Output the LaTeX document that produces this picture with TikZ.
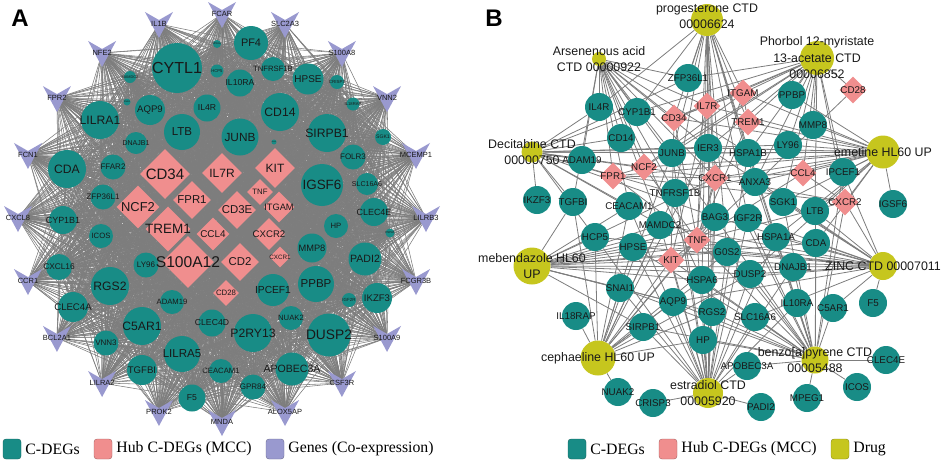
\documentclass[tikz,border=0pt]{standalone}
\usepackage{fontspec}
\setmainfont{Liberation Serif}
\setsansfont{Liberation Sans}
\usepackage{tikz}
\usetikzlibrary{shapes.geometric, positioning}

\definecolor{sarcelle}{RGB}{24,140,134}
\definecolor{rose}{RGB}{240,142,142}
\definecolor{lavande}{RGB}{153,153,207}
\definecolor{olive}{RGB}{198,198,30}
\definecolor{trait}{RGB}{125,125,125}

\pgfdeclarelayer{fond}
\pgfsetlayers{fond,main}

\begin{document}
\begin{tikzpicture}[x=1pt, y=-1pt,
    gene/.style={circle, fill=sarcelle, inner sep=0pt},
    hub/.style={diamond, aspect=1, fill=rose, inner sep=0pt},
    drogue/.style={circle, fill=olive, inner sep=0pt},
    etiq/.style={font=\sffamily, text=black!90, inner sep=0pt},
    etiqB/.style={etiq, font=\sffamily\fontsize{9.8}{9.8}\selectfont},
    etiqD/.style={etiq, align=center, font=\sffamily\fontsize{12.4}{16.5}\selectfont},
    lienA/.style={draw=trait, line width=0.55pt},
    lienB/.style={draw=trait, line width=0.8pt},
    carre/.style={rectangle, rounded corners=3pt, minimum width=18pt, minimum height=20pt,
                  inner sep=0pt, draw=#1!70!black, fill=#1},
    legende/.style={font=\fontsize{15.8}{16}\selectfont, inner sep=0pt, anchor=west}]

    \useasboundingbox (0,0) rectangle (941,464);

    % Panneau A
    \node[font=\sffamily\bfseries\fontsize{24}{24}\selectfont] (lettreA) at (20,18) {A};

    \def\listeT{FCAR,SLC2A3,S100A8,VNN2,MCEMP1,LILRB3,FCGR3B,S100A9,CSF3R,ALOX5AP,
                MNDA,PROK2,LILRA2,BCL2A1,CCR1,CXCL8,FCN1,FPR2,NFE2,IL1B}
    \def\listeA{CYTL1,IL10RA,LILRA1,AQP9,IL4R,LTB,JUNB,DNAJB1,CDA,FFAR2,ZFP36L1,PF4,
                TNFRSF1B,HPSE,CRISP3,IL18RAP,CD14,SIRPB1,SGK1,FOLR3,IGSF6,SLC16A6,CLEC4E,
                HP,MMP8,PADI2,PPBP,IKZF3,IGF2R,IPCEF1,NUAK2,DUSP2,P2RY13,APOBEC3A,GPR84,
                CEACAM1,CLEC4D,LILRA5,F5,TGFBI,C5AR1,VNN3,ADAM19,LY96,RGS2,CLEC4A,CXCL16,
                ICOS,CYP1B1,MPEG1,HCP5,MAMDC2,SNAI1,BAG3,HSPA6,
                CD34,IL7R,KIT,NCF2,FPR1,TNF,CD3E,ITGAM,TREM1,CCL4,CXCR2,S100A12,CD2,CXCR1,CD28}

    % genes co-exprimes
    \foreach \n [count=\k from 0] in \listeT {
        \pgfmathsetmacro\px{222+204*cos(90-18*\k)}
        \pgfmathsetmacro\py{218-204*sin(90-18*\k)}
        \fill[lavande] (\px-14,\py-12) -- (\px,\py-4) -- (\px+14,\py-12) -- (\px,\py+14) -- cycle;
        \node[etiq, font=\sffamily\fontsize{7.5}{7.5}\selectfont] (t-\n) at (\px,\py) {\n};
    }

    % C-DEGs
    \foreach \n/\x/\y/\dm in {CYTL1/177/68/50, IL10RA/240/83/27, LILRA1/100/120/38,
        AQP9/150/110/30, IL4R/207/108/27, LTB/182/132/36, JUNB/240/137/37, DNAJB1/136/143/22,
        CDA/67/169/38, FFAR2/113/167/25, ZFP36L1/103/197/25, PF4/251/43/34,
        TNFRSF1B/273/69/24, HPSE/308/79/31, CRISP3/337/82/14, IL18RAP/353/104/13,
        CD14/280/112/38, SIRPB1/327/133/38, SGK1/383/137/16, FOLR3/353/157/25,
        IGSF6/322/185/42, SLC16A6/367/184/22, CLEC4E/374/212/28, HP/336/226/24,
        MMP8/312/248/29, PADI2/365/259/33, PPBP/316/284/36, IKZF3/377/298/30,
        IGF2R/349/300/14, IPCEF1/273/290/32, NUAK2/291/318/24, DUSP2/329/335/43,
        P2RY13/253/333/38, APOBEC3A/292/369/33, GPR84/253/387/25, CEACAM1/221/371/24,
        CLEC4D/212/323/27, LILRA5/182/354/36, F5/192/398/27, TGFBI/142/370/30,
        C5AR1/142/326/38, VNN3/106/343/25, ADAM19/172/302/24, LY96/146/265/25,
        RGS2/110/286/38, CLEC4A/73/307/30, CXCL16/59/267/26, ICOS/101/236/24,
        CYP1B1/63/220/28, MPEG1/217/44/8, HCP5/217/71/13, MAMDC2/130/77/12,
        SNAI1/127/102/7, BAG3/274/142/5, HSPA6/390/233/9} {
        \pgfmathsetmacro\fs{0.32*\dm}
        \node[gene, minimum size=\dm pt,
              label={[etiq, font=\sffamily\fontsize{\fs}{\fs}\selectfont]center:\n}] (a-\n) at (\x,\y) {};
    }

    % Hub C-DEGs
    \foreach \n/\x/\y/\w in {CD34/165/174/50, IL7R/222/173/40, KIT/275/168/40,
        NCF2/138/207/43, FPR1/192/200/38, TNF/260/192/26, CD3E/237/210/38,
        ITGAM/279/207/31, TREM1/168/229/45, CCL4/213/234/33, CXCR2/269/234/32,
        S100A12/188/262/52, CD2/240/262/38, CXCR1/280/257/21, CD28/226/293/26} {
        \pgfmathsetmacro\fs{0.3*\w}
        \node[hub, minimum size=\w pt,
              label={[etiq, font=\sffamily\fontsize{\fs}{\fs}\selectfont]center:\n}] (a-\n) at (\x,\y) {};
    }

    \begin{pgfonlayer}{fond}
        \foreach \t in \listeT {
            \foreach \g in \listeA {
                \draw[lienA] (t-\t.center) -- (a-\g.center);
            }
        }
        \foreach \u [count=\i] in \listeA {
            \foreach \v [count=\j] in \listeA {
                \ifnum\j>\i \draw[lienA] (a-\u.center) -- (a-\v.center); \fi
            }
        }
    \end{pgfonlayer}

    % Panneau B
    \node[font=\sffamily\bfseries\fontsize{24}{24}\selectfont] (lettreB) at (494,18) {B};

    % C-DEGs
    \foreach \n/\x/\y in {ZFP36L1/688/78, IL4R/599/107, CYP1B1/637/112, CD14/621/138,
        ADAM19/582/160, JUNB/672/153, IKZF3/537/200, TGFBI/573/202, CEACAM1/629/206,
        TNFRSF1B/675/193, IER3/708/148, BAG3/715/217, MAMDC2/660/225, HCP5/595/237,
        HPSE/633/247, G0S2/727/252, HSPA1B/748/153, PPBP/792/95, MMP8/813/125,
        LY96/788/145, IPCEF1/843/172, ANXA3/755/182, SGK1/783/202, LTB/815/211,
        IGSF6/893/204, IGF2R/748/218, HSPA1A/776/237, CDA/816/243, DNAJB1/793/267,
        DUSP2/750/274, HSPA6/702/280, SNAI1/620/288, AQP9/673/302, RGS2/712/312,
        SLC16A6/755/317, IL10RA/797/303, C5AR1/833/308, F5/873/303, SIRPB1/643/327,
        HP/703/340, IL18RAP/576/316, APOBEC3A/747/366, CLEC4E/886/360, ICOS/857/387,
        MPEG1/807/398, PADI2/761/407, CRISP3/653/403, NUAK2/618/392} {
        \node[gene, minimum size=28pt, label={[etiqB]center:\n}] (b-\n) at (\x,\y) {};
    }

    % Hub C-DEGs
    \foreach \n/\x/\y in {CD34/674/118, NCF2/644/167, FPR1/613/176, IL7R/707/106,
        CXCR1/715/178, TNF/697/240, KIT/671/260, ITGAM/743/93, TREM1/748/122,
        CD28/853/90, CCL4/803/173, CXCR2/845/202} {
        \node[hub, minimum size=27pt, label={[etiqB]center:\n}] (b-\n) at (\x,\y) {};
    }

    % Drugs
    \node[drogue, minimum size=32pt, label={[etiqD, yshift=4pt]center:progesterone CTD\\00006624}] (b-prog) at (707,20) {};
    \node[drogue, minimum size=14pt, label={[etiqD]center:Arsenenous acid\\CTD 00000922}] (b-ars) at (599,59) {};
    \node[drogue, minimum size=34pt, label={[etiqD]center:Phorbol 12-myristate\\13-acetate CTD\\00006852}] (b-phor) at (817,58) {};
    \node[drogue, minimum size=21pt, label={[etiqD]center:Decitabine CTD\\00000750}] (b-deci) at (532,152) {};
    \node[drogue, minimum size=33pt, label={[etiqD]center:emetine HL60 UP}] (b-emet) at (883,152) {};
    \node[drogue, minimum size=37pt, label={[etiqD]center:mebendazole HL60\\UP}] (b-meb) at (532,266) {};
    \node[drogue, minimum size=28pt, label={[etiqD]center:ZINC CTD 00007011}] (b-zinc) at (883,266) {};
    \node[drogue, minimum size=35pt, label={[etiqD]center:cephaeline HL60 UP}] (b-ceph) at (598,358) {};
    \node[drogue, minimum size=27pt, label={[etiqD]center:benzo[a]pyrene CTD\\00005488}] (b-benzo) at (815,360) {};
    \node[drogue, minimum size=30pt, label={[etiqD]center:estradiol CTD\\00005920}] (b-estr) at (708,393) {};

    \begin{pgfonlayer}{fond}
        \foreach \s/\cs in {
            prog/{ZFP36L1,IL7R,ITGAM,IER3,CXCR1,BAG3,HSPA1B,JUNB,TNFRSF1B,TNF,G0S2,HSPA6,IGF2R,CD34,CYP1B1,IL4R,HSPA1A,RGS2,TREM1,ANXA3},
            ars/{IL4R,CYP1B1,CD14,JUNB,ZFP36L1,ADAM19,FPR1,NCF2,TNFRSF1B,IER3,HSPA1B,CXCR1,TGFBI,CEACAM1,BAG3,CD34,HSPA6,IL7R,MAMDC2},
            phor/{ITGAM,PPBP,CD28,MMP8,LY96,IL7R,TREM1,CD34,ZFP36L1,IPCEF1,CXCR2,CCL4,HSPA1B,SGK1,LTB,IER3,NCF2,ANXA3,CYP1B1,JUNB},
            deci/{IKZF3,ADAM19,CD14,IL4R,FPR1,TGFBI,CEACAM1,HCP5,JUNB,CXCR1,NCF2,CYP1B1,TNFRSF1B,IER3,HSPA1B,MAMDC2,LY96,ZFP36L1,BAG3},
            emet/{IGSF6,IPCEF1,CXCR2,CCL4,LY96,HSPA1B,SGK1,LTB,IER3,JUNB,ANXA3,TREM1,ITGAM,IL7R,CD34,TNFRSF1B,CDA,HSPA1A,DUSP2,CXCR1,NCF2,FPR1,MMP8,PPBP},
            meb/{HCP5,HPSE,SNAI1,TGFBI,MAMDC2,KIT,TNF,HSPA6,AQP9,RGS2,DUSP2,G0S2,CEACAM1,BAG3,IGF2R,HSPA1A,DNAJB1,CDA,CXCR1,SIRPB1},
            zinc/{CDA,DNAJB1,DUSP2,F5,C5AR1,LTB,CXCR2,HSPA1A,G0S2,IGF2R,SLC16A6,HSPA6,IPCEF1,SGK1,BAG3,IER3,AQP9,MAMDC2,HPSE,HCP5,KIT,TNF,ANXA3},
            ceph/{IL18RAP,NUAK2,SIRPB1,SNAI1,AQP9,HP,HCP5,HPSE,CEACAM1,TGFBI,MAMDC2,KIT,RGS2,TNF,G0S2,BAG3,HSPA6,JUNB,TNFRSF1B,DUSP2,IER3},
            benzo/{C5AR1,IL10RA,CLEC4E,ICOS,MPEG1,APOBEC3A,SLC16A6,DUSP2,DNAJB1,HSPA1A,HSPA6,G0S2,RGS2,HP,CDA,LTB,SGK1,IGF2R,BAG3,CXCR2,IPCEF1,ANXA3,HSPA1B,KIT,TNF,AQP9,SIRPB1,IER3,SNAI1,HPSE},
            estr/{PADI2,CRISP3,HP,RGS2,AQP9,HSPA6,SLC16A6,APOBEC3A,DUSP2,SIRPB1,SNAI1,BAG3,TNF,KIT,G0S2,IGF2R,HSPA1A,MAMDC2,HPSE,IER3,CXCR1,JUNB,IL10RA,DNAJB1,CEACAM1,TNFRSF1B,HSPA1B,HCP5}} {
            \foreach \c in \cs {
                \draw[lienB] (b-\s) -- (b-\c);
            }
        }
        \foreach \u/\v in {CD34/IL7R, CD34/KIT, CD34/TNF, IL7R/TNF, KIT/TNF, TNF/CXCR1,
            TNF/CXCR2, TNF/CCL4, TNF/ITGAM, TNF/FPR1, TNF/NCF2, TNF/TREM1, TNF/CD28,
            CXCR1/CXCR2, CXCR1/FPR1, CXCR2/FPR1, ITGAM/TREM1, ITGAM/NCF2, CCL4/CXCR1,
            NCF2/FPR1, KIT/IL7R, CD34/ITGAM, CCL4/CXCR2} {
            \draw[lienB] (b-\u) -- (b-\v);
        }
    \end{pgfonlayer}

    % Legendes
    \node[carre=sarcelle] (lgA1) at (12,449) {};
    \node[legende, right=4pt of lgA1] (txA1) {C-DEGs};
    \node[carre=rose] (lgA2) at (103,449) {};
    \node[legende, right=4pt of lgA2] (txA2) {Hub C-DEGs (MCC)};
    \node[carre=lavande] (lgA3) at (275,449) {};
    \node[legende, right=4pt of lgA3] (txA3) {Genes (Co-expression)};

    \node[carre=sarcelle] (lgB1) at (577,449) {};
    \node[legende, right=4pt of lgB1] (txB1) {C-DEGs};
    \node[carre=rose] (lgB2) at (668,449) {};
    \node[legende, right=4pt of lgB2] (txB2) {Hub C-DEGs (MCC)};
    \node[carre=olive] (lgB3) at (840,449) {};
    \node[legende, right=4pt of lgB3] (txB3) {Drug};

\end{tikzpicture}
\end{document}
